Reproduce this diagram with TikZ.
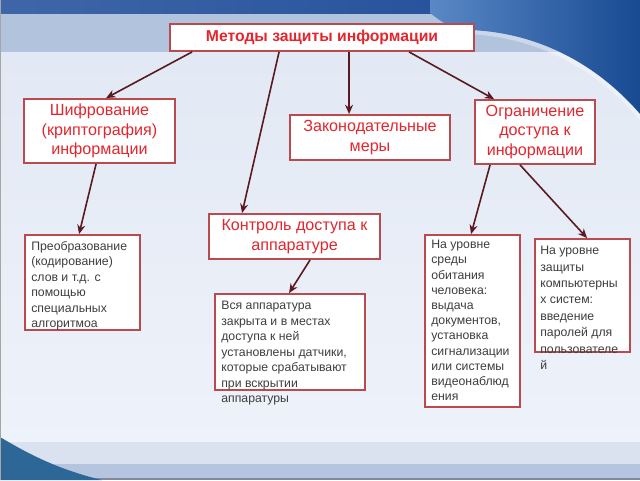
\documentclass[tikz,border=0pt]{standalone}
\usepackage{fontspec}
\setmainfont{Liberation Sans}
\usetikzlibrary{arrows.meta,calc}
\definecolor{bgl}{HTML}{EEF2FA}
\definecolor{bgm}{HTML}{E2E9F4}
\definecolor{bandc}{HTML}{B2C3DE}
\definecolor{topdark}{HTML}{1D4B98}
\definecolor{swdark}{HTML}{184A92}
\definecolor{swmid}{HTML}{5A88C6}
\definecolor{botl}{HTML}{DAE2EF}
\definecolor{botm}{HTML}{B6C5DF}
\definecolor{wedge}{HTML}{2D6798}
\definecolor{boxred}{HTML}{B84A50}
\definecolor{hred}{HTML}{E3262E}
\definecolor{tgray}{HTML}{3E3E3E}
\definecolor{arrc}{HTML}{5A1A20}
\tikzset{
  bx/.style={draw=boxred, line width=1.4pt, fill=white, inner sep=0pt},
  hdr/.style={bx, text=hred, align=center, font=\fontsize{12.1}{14.6}\selectfont},
  small/.style={anchor=north west, inner sep=0pt, text=tgray, align=left},
  arr/.style={draw=arrc, line width=1.2pt, -{Stealth[length=7pt,width=6pt]}}
}
\begin{document}
\begin{tikzpicture}[x=0.75pt,y=-0.75pt]
\useasboundingbox (0,0) rectangle (640,480);
% background
\shade[top color=bgm, bottom color=bgl] (0,52) rectangle (640,442);
\fill[bandc] (0,13) rectangle (640,52);
\shade[left color=topdark!85!white, right color=topdark] (0,0) rectangle (640,13);
\shade[left color=swmid, right color=swdark]
  (430,0) -- (640,0) -- (640,114)
  .. controls (595,62) and (535,32) .. (468,30)
  .. controls (452,30) and (442,22) .. (430,13) -- cycle;
\fill[white, opacity=0.35]
  (640,114) .. controls (595,62) and (535,32) .. (468,30)
  -- (468,34) .. controls (535,37) and (595,67) .. (640,120) -- cycle;
\fill[botl] (0,442) rectangle (640,464);
\fill[botm] (0,464) rectangle (640,478);
\fill[botm!70!black] (0,478) rectangle (640,480);
\fill[wedge] (0,437) .. controls (30,455) and (60,470) .. (102,480) -- (0,480) -- cycle;
\fill[gray!70] (0,0) rectangle (1.2,480);

% header boxes
\node[bx, text=hred, minimum width=228pt, minimum height=20.25pt,
  font=\bfseries\fontsize{11.8}{14}\selectfont] (top) at (322,37.5) {Методы защиты информации};
\node[hdr, minimum width=113.25pt, minimum height=48pt] (sh) at (99.5,131)
  {Шифрование\\(криптография)\\информации};
\node[hdr, minimum width=120pt, minimum height=33.75pt] (zak) at (370,137.5)
  {Законодательные\\меры};
\node[hdr, minimum width=90pt, minimum height=48pt] (ogr) at (535,132)
  {Ограничение\\доступа к\\информации};
\node[hdr, minimum width=128.25pt, minimum height=33.75pt] (kon) at (294.5,236.5)
  {Контроль доступа к\\аппаратуре};

% detail boxes
\node[bx, minimum width=86.25pt, minimum height=71.25pt] (pre) at (82.5,282.5) {};
\node[bx, minimum width=112.5pt, minimum height=72pt] (vsya) at (290,342) {};
\node[bx, minimum width=71.25pt, minimum height=129pt] (sreda) at (472.5,321) {};
\node[bx, minimum width=71.25pt, minimum height=84.75pt] (zash) at (582.5,295.5) {};

\node[small, font=\fontsize{9.2}{11.6}\selectfont] (preT) at ($(pre.north west)+(7,7)$)
  {Преобразование\\(кодирование)\\слов и т.д. с\\помощью\\специальных\\алгоритмоа};
\node[small, font=\fontsize{9.2}{11.6}\selectfont] (vsyaT) at ($(vsya.north west)+(7,8)$)
  {Вся аппаратура\\закрыта и в местах\\доступа к ней\\установлены датчики,\\которые срабатывают\\при вскрытии\\аппаратуры};
\node[small, font=\fontsize{9.2}{11.4}\selectfont] (sredaT) at ($(sreda.north west)+(7,6)$)
  {На уровне\\среды\\обитания\\человека:\\выдача\\документов,\\установка\\сигнализации\\или системы\\видеонаблюд\\ения};
\node[small, font=\fontsize{9.2}{12.3}\selectfont] (zashT) at ($(zash.north west)+(6,8)$)
  {На уровне\\защиты\\компьютерны\\х систем:\\введение\\паролей для\\пользователе\\й};

% connectors
\draw[arr] ($(top.south west)+(23,0)$) -- ($(sh.north west)+(83,0)$);
\draw[arr] ($(top.south west)+(110,0)$) -- ($(kon.north west)+(34,0)$);
\draw[arr] ($(top.south west)+(180,0)$) -- ($(zak.north west)+(60,0)$);
\draw[arr] ($(top.south west)+(240,0)$) -- ($(ogr.north west)+(20,0)$);
\draw[arr] ($(sh.south west)+(73,0)$) -- ($(pre.north west)+(55,0)$);
\draw[arr] ($(kon.south west)+(102,0)$) -- ($(vsya.north west)+(75,0)$);
\draw[arr] ($(ogr.south west)+(16,0)$) -- ($(sreda.north west)+(47,0)$);
\draw[arr] ($(ogr.south west)+(46,0)$) -- ($(zash.north west)+(53,0)$);
\end{tikzpicture}
\end{document}
